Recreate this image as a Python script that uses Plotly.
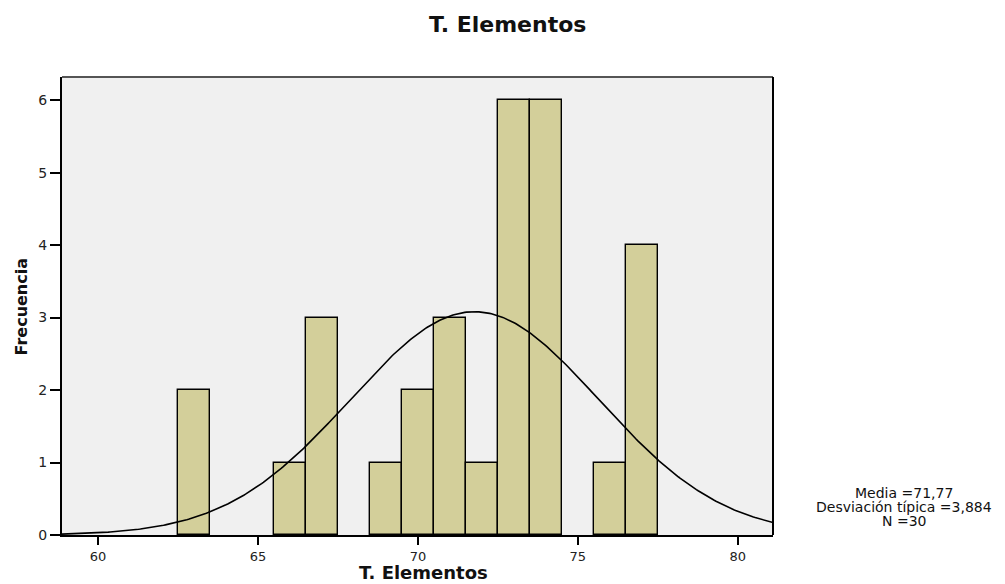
import numpy as np
import plotly.graph_objects as go

# Histogram bins (centers, width 1) and their frequencies
bin_centers = [63, 66, 67, 69, 70, 71, 72, 73, 74, 76, 77]
frequencies = [2, 1, 3, 1, 2, 3, 1, 6, 6, 1, 4]

# Summary statistics shown beside the chart
mean_value = 71.77
std_value = 3.884
n_value = 30
bin_width = 1.0

x_range = [58.875, 81.1]
y_range = [0, 6.32]
x_ticks = [60, 65, 70, 75, 80]
y_ticks = [0, 1, 2, 3, 4, 5, 6]

stats_lines = [
    f"Media ={mean_value:.2f}".replace(".", ","),
    f"Desviación típica ={std_value:.3f}".replace(".", ","),
    f"N ={n_value}",
]

# Fitted normal curve scaled to frequency counts
xs = np.linspace(x_range[0], x_range[1], 400)
ys = n_value * bin_width / (std_value * np.sqrt(2 * np.pi)) * np.exp(-0.5 * ((xs - mean_value) / std_value) ** 2)

fig = go.Figure()
fig.add_trace(go.Bar(
    x=bin_centers, y=frequencies, width=bin_width,
    marker=dict(color="#D3CF9A", line=dict(color="#000000", width=1.4)),
    hoverinfo="x+y",
))
fig.add_trace(go.Scatter(
    x=xs, y=ys, mode="lines",
    line=dict(color="#000000", width=1.6),
    hoverinfo="skip",
))

font_main = "DejaVu Sans, Verdana, sans-serif"

# plot area in pixels: left 62, right 773, top 77, bottom 535
PL, PR, PT, PB = 62, 773, 77, 535
PW, PH = PR - PL, PB - PT


def px_x(x):
    return (x - PL) / PW


def px_y(y):
    return (PB - y) / PH


annotations = [
    dict(text="<b>T. Elementos</b>", xref="paper", yref="paper",
         x=px_x(507.5), y=px_y(25), xanchor="center", yanchor="middle",
         showarrow=False, font=dict(size=22, color="#111111", family=font_main)),
    dict(text="<b>T. Elementos</b>", xref="paper", yref="paper",
         x=px_x(423), y=px_y(584), xanchor="center", yanchor="bottom",
         borderpad=0,
         showarrow=False, font=dict(size=18, color="#111111", family=font_main)),
    dict(text="<b>Frecuencia</b>", xref="paper", yref="paper",
         x=px_x(21), y=px_y(306.5), xanchor="center", yanchor="middle",
         textangle=-90, showarrow=False,
         font=dict(size=16, color="#111111", family=font_main)),
]
for line_text, cy in zip(stats_lines, [493, 507, 520.5]):
    annotations.append(dict(
        text=line_text, xref="paper", yref="paper",
        x=px_x(903.5), y=px_y(cy), xanchor="center", yanchor="middle",
        showarrow=False, font=dict(size=14, color="#111111", family=font_main),
    ))

fig.update_layout(
    width=1005, height=584,
    margin=dict(l=PL, r=1005 - PR, t=PT, b=584 - PB),
    paper_bgcolor="#FFFFFF",
    plot_bgcolor="#F0F0F0",
    showlegend=False,
    bargap=0,
    font=dict(family=font_main, size=13, color="#222222"),
    xaxis=dict(
        range=x_range, tickvals=x_ticks, ticks="outside", ticklen=8, tickwidth=2,
        tickcolor="#000000", showgrid=False, zeroline=False,
        showline=True, linecolor="#000000", linewidth=2, mirror=False,
        tickfont=dict(size=13, color="#222222"),
    ),
    yaxis=dict(
        range=y_range, tickvals=y_ticks, ticks="outside", ticklen=10, tickwidth=2,
        tickcolor="#000000", showgrid=False, zeroline=False,
        showline=True, linecolor="#000000", linewidth=2, mirror=False,
        tickfont=dict(size=14, color="#222222"),
    ),
    shapes=[
        # top and right frame of the plot area
        dict(type="line", xref="paper", yref="paper", x0=0, x1=1, y0=1, y1=1,
             line=dict(color="#555555", width=2)),
        dict(type="line", xref="paper", yref="paper", x0=1, x1=1, y0=0, y1=1,
             line=dict(color="#000000", width=2)),
    ],
    annotations=annotations,
)

fig.write_html("out.html")
